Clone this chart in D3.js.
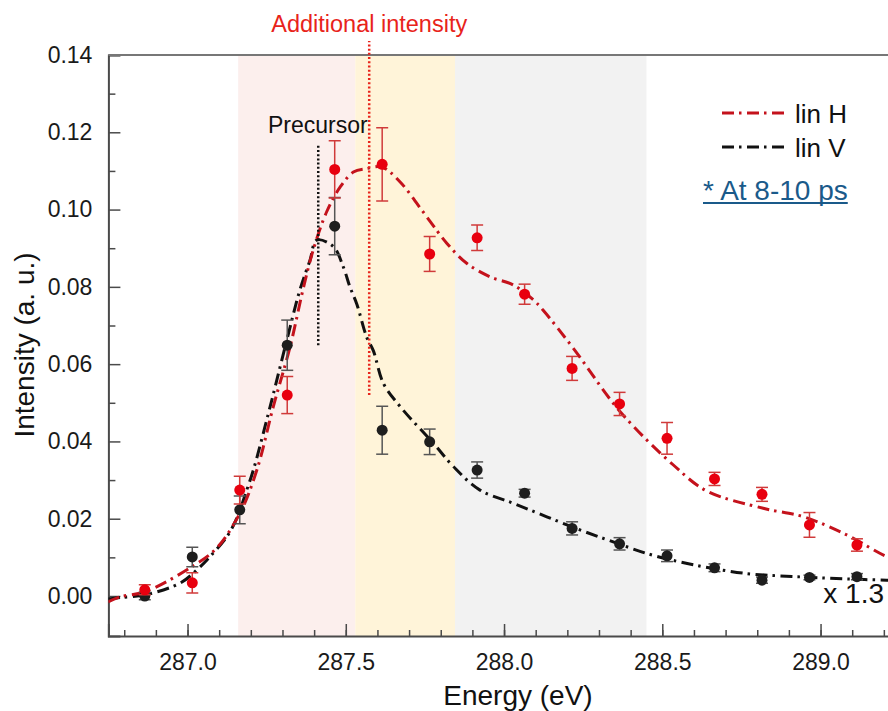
<!DOCTYPE html>
<html>
<head>
<meta charset="utf-8">
<script src="https://cdn.jsdelivr.net/npm/d3@7"></script>
<style>
  body { margin: 0; background: #fff; }
  svg { display: block; font-family: "Liberation Sans", Arial, sans-serif; }
</style>
</head>
<body>
<div id="chart"></div>
<script>
// measured points (energy in eV)
const energy = [286.865, 287.015, 287.165, 287.315, 287.465, 287.615, 287.765, 287.915,
                288.065, 288.215, 288.365, 288.515, 288.665, 288.815, 288.965, 289.115];
const linH    = [0.0016, 0.0034, 0.0274, 0.0520, 0.1104, 0.1117, 0.0885, 0.0927,
                 0.0781, 0.0589, 0.0497, 0.0408, 0.0303, 0.0263, 0.0184, 0.0132];
const linHErr = [0.0013, 0.0026, 0.0036, 0.0048, 0.0074, 0.0095, 0.0045, 0.0033,
                 0.0026, 0.0031, 0.0030, 0.0041, 0.0017, 0.0018, 0.0032, 0.0016];
const linV    = [0.0000, 0.0101, 0.0223, 0.0649, 0.0957, 0.0429, 0.0399, 0.0326,
                 0.0266, 0.0175, 0.0135, 0.0104, 0.0073, 0.0041, 0.0048, 0.0050];
const linVErr = [0.0010, 0.0025, 0.0036, 0.0065, 0.0074, 0.0062, 0.0033, 0.0021,
                 0.0010, 0.0017, 0.0016, 0.0015, 0.0010, 0.0008, 0.0006, 0.0008];

// fitted curves
const fitHx = [286.749, 286.787, 286.866, 287.018, 287.092, 287.166, 287.219, 287.271, 287.324,
               287.366, 287.397, 287.440, 287.482, 287.524, 287.566, 287.614, 287.671, 287.756,
               287.819, 287.882, 287.956, 288.029, 288.093, 288.123, 288.219, 288.367, 288.535,
               288.640, 288.819, 288.946, 289.083, 289.209, 289.300];
const fitHy = [-0.0015, -0.0002, 0.0011, 0.0078, 0.0124, 0.0215, 0.0326, 0.0490, 0.0645,
               0.0797, 0.0895, 0.0995, 0.1058, 0.1097, 0.1106, 0.1110, 0.1072, 0.0981,
               0.0913, 0.0861, 0.0826, 0.0805, 0.0766, 0.0740, 0.0641, 0.0477, 0.0339,
               0.0272, 0.0227, 0.0205, 0.0158, 0.0102, 0.0075];
const fitVx = [286.749, 286.787, 286.866, 286.976, 287.029, 287.071, 287.124, 287.155, 287.187,
               287.208, 287.261, 287.313, 287.355, 287.387, 287.408, 287.461, 287.492, 287.513,
               287.535, 287.566, 287.587, 287.619, 287.672, 287.777, 287.840, 287.924, 288.029,
               288.135, 288.240, 288.345, 288.451, 288.556, 288.661, 288.767, 288.872, 288.977,
               289.083, 289.209, 289.300];
const fitVy = [-0.0008, -0.0004, 0.0003, 0.0033, 0.0067, 0.0102, 0.0153, 0.0200, 0.0274,
               0.0326, 0.0490, 0.0660, 0.0792, 0.0869, 0.0921, 0.0904, 0.0852, 0.0800,
               0.0755, 0.0670, 0.0635, 0.0550, 0.0490, 0.0395, 0.0335, 0.0274, 0.0240,
               0.0205, 0.0171, 0.0140, 0.0110, 0.0088, 0.0071, 0.0058, 0.0052, 0.0048,
               0.0044, 0.0041, 0.0039];

// shaded energy windows
const bandStart = [287.16, 287.53, 287.845];
const bandEnd   = [287.53, 287.845, 288.45];
const bandColor = ["#fcefed", "#fff4d9", "#f2f2f2"];

const xTicks = [287.0, 287.5, 288.0, 288.5, 289.0];
const xMinor = d3.range(286.8, 289.3, 0.1).map(d => +d.toFixed(1));
const yTicks = [0, 0.02, 0.04, 0.06, 0.08, 0.10, 0.12, 0.14];
const yMinor = [0.01, 0.03, 0.05, 0.07, 0.09, 0.11, 0.13];

const precursorE = 287.413, precursorY = [0.0649, 0.1167];
const additionalE = 287.574, additionalY = [0.052, 0.1436];

var W = 888, H = 711;
var margin = {top: 55, left: 108, bottom: 75};

var svg = d3.select("#chart").append("svg")
    .attr("width", W).attr("height", H);

var x = d3.scaleLinear().domain([286.75, 289.3]).range([108.4, 915.5]);
var y = d3.scaleLinear().domain([-0.01035, 0.14]).range([H - margin.bottom, margin.top]);

var x0 = x.range()[0], x1 = x.range()[1], yB = y.range()[0], yT = y.range()[1];

svg.append("defs").append("clipPath").attr("id", "plot")
  .append("rect").attr("x", x0).attr("y", yT).attr("width", x1 - x0).attr("height", yB - yT);

// bands
svg.append("g").selectAll("rect")
  .data(bandStart)
  .enter().append("rect")
    .attr("x", d => x(d))
    .attr("width", (d, i) => x(bandEnd[i]) - x(d))
    .attr("y", yT).attr("height", yB - yT)
    .attr("fill", (d, i) => bandColor[i]);

// axes (ticks pointing inward)
var axisColor = "#4a4a4a";
var xAxis = svg.append("g").attr("transform", "translate(0," + yB + ")");
xAxis.call(d3.axisBottom(x).tickValues(xMinor).tickSize(-6).tickFormat(""));
xAxis.call(g => g.select(".domain").remove());
var xAxisMaj = svg.append("g").attr("transform", "translate(0," + yB + ")")
    .call(d3.axisBottom(x).tickValues(xTicks).tickSize(-12).tickPadding(18).tickFormat(d3.format(".1f")));
xAxisMaj.select(".domain").attr("stroke-width", 2);
xAxisMaj.selectAll("text").attr("font-size", 23).attr("fill", "#1a1a1a")
    .attr("font-family", "Liberation Sans, Arial, sans-serif");

var yAxis = svg.append("g").attr("transform", "translate(" + x0 + ",0)");
yAxis.call(d3.axisLeft(y).tickValues(yMinor).tickSize(-7).tickFormat(""));
yAxis.call(g => g.select(".domain").remove());
var yAxisMaj = svg.append("g").attr("transform", "translate(" + x0 + ",0)")
    .call(d3.axisLeft(y).tickValues(yTicks).tickSize(-12).tickPadding(16).tickFormat(d3.format(".2f")));
yAxisMaj.select(".domain").attr("stroke-width", 2);
yAxisMaj.selectAll("text").attr("font-size", 23).attr("fill", "#1a1a1a")
    .attr("font-family", "Liberation Sans, Arial, sans-serif");
svg.selectAll(".tick line").attr("stroke", axisColor).attr("stroke-width", 1.5);
svg.selectAll(".domain").attr("stroke", axisColor);

// top frame
svg.append("line").attr("x1", x0).attr("x2", x1).attr("y1", yT).attr("y2", yT)
  .attr("stroke", "#777").attr("stroke-width", 2);

// fit lines
var dashDot = "12 5 2.5 5.5";
var line = d3.line().x(d => x(d[0])).y(d => y(d[1])).curve(d3.curveCatmullRom.alpha(0.5));
var plot = svg.append("g").attr("clip-path", "url(#plot)");
plot.append("path").datum(d3.zip(fitVx, fitVy))
  .attr("d", line).attr("fill", "none").attr("stroke", "#111")
  .attr("stroke-width", 3).attr("stroke-dasharray", dashDot);
plot.append("path").datum(d3.zip(fitHx, fitHy))
  .attr("d", line).attr("fill", "none").attr("stroke", "#c4121c")
  .attr("stroke-width", 3).attr("stroke-dasharray", dashDot);

// dotted markers
svg.append("line")
  .attr("x1", x(precursorE)).attr("x2", x(precursorE))
  .attr("y1", y(precursorY[0])).attr("y2", y(precursorY[1]))
  .attr("stroke", "#111").attr("stroke-width", 2.5).attr("stroke-dasharray", "2 2.2");
svg.append("line")
  .attr("x1", x(additionalE)).attr("x2", x(additionalE))
  .attr("y1", y(additionalY[0])).attr("y2", y(additionalY[1]))
  .attr("stroke", "#e8231a").attr("stroke-width", 2.5).attr("stroke-dasharray", "2 2.2");

// points with error bars
function series(vals, errs, barColor, dotColor) {
  var g = plot.append("g");
  var pts = g.selectAll("g").data(energy).enter().append("g");
  pts.append("line")
    .attr("x1", d => x(d)).attr("x2", d => x(d))
    .attr("y1", (d, i) => y(vals[i] - errs[i])).attr("y2", (d, i) => y(vals[i] + errs[i]))
    .attr("stroke", barColor).attr("stroke-width", 1.5);
  [-1, 1].forEach(s => {
    pts.append("line")
      .attr("x1", d => x(d) - 6).attr("x2", d => x(d) + 6)
      .attr("y1", (d, i) => y(vals[i] + s * errs[i])).attr("y2", (d, i) => y(vals[i] + s * errs[i]))
      .attr("stroke", barColor).attr("stroke-width", 1.5);
  });
  pts.append("circle")
    .attr("cx", d => x(d)).attr("cy", (d, i) => y(vals[i]))
    .attr("r", 5.5).attr("fill", dotColor);
}
series(linV, linVErr, "#555", "#1e1e1e");
series(linH, linHErr, "#d03a3a", "#e8000f");

// legend
var legend = [["lin H", "#c4121c", 113], ["lin V", "#111", 147]];
legend.forEach(l => {
  svg.append("line").attr("x1", 722).attr("x2", 787).attr("y1", l[2]).attr("y2", l[2])
    .attr("stroke", l[1]).attr("stroke-width", 3).attr("stroke-dasharray", dashDot);
  svg.append("text").attr("x", 795).attr("y", l[2] + 9.5).text(l[0])
    .attr("font-size", 26).attr("fill", "#111");
});
var note = svg.append("text").attr("x", 703).attr("y", 200).text("* At 8-10 ps")
  .attr("font-size", 28).attr("fill", "#1a5a8a");
var nb = note.node().getBBox();
svg.append("line").attr("x1", nb.x).attr("x2", nb.x + nb.width).attr("y1", 203).attr("y2", 203)
  .attr("stroke", "#1a5a8a").attr("stroke-width", 2);

// annotations
svg.append("text").attr("x", 268).attr("y", 133).text("Precursor")
  .attr("font-size", 23).attr("fill", "#111");
svg.append("text").attr("x", x(additionalE)).attr("y", 32).attr("text-anchor", "middle")
  .text("Additional intensity").attr("font-size", 23.5).attr("fill", "#e8231a");
svg.append("text").attr("x", 884).attr("y", 603).attr("text-anchor", "end").text("x 1.3")
  .attr("font-size", 28).attr("fill", "#111");

// axis titles
svg.append("text").attr("x", 518).attr("y", 705).attr("text-anchor", "middle")
  .text("Energy (eV)").attr("font-size", 28).attr("fill", "#111");
svg.append("text").attr("transform", "translate(34,345) rotate(-90)").attr("text-anchor", "middle")
  .text("Intensity (a. u.)").attr("font-size", 28).attr("fill", "#111");
</script>
</body>
</html>
